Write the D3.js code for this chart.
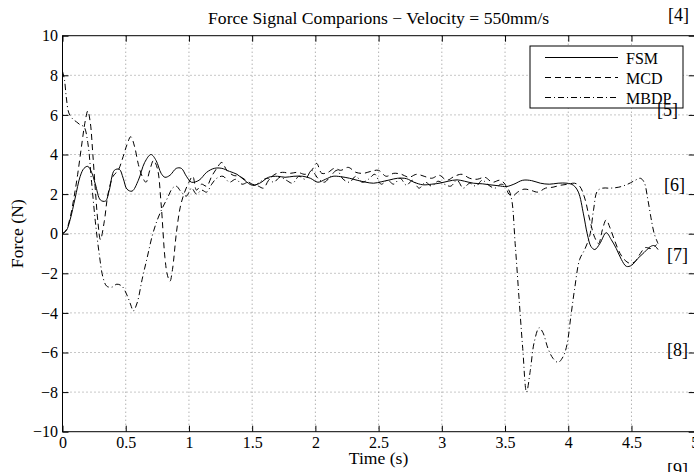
<!DOCTYPE html>
<html>
<head>
<meta charset="utf-8">
<script src="https://cdn.jsdelivr.net/npm/d3@7"></script>
<style>
  body { margin: 0; background: #fff; }
  text { font-family: "Liberation Serif", "Times New Roman", serif; fill: #000; }
</style>
</head>
<body>
<svg id="chart" width="694" height="472"></svg>
<script>
// Data
const fsmTime = [0, 0.03, 0.06, 0.1, 0.14, 0.17, 0.2, 0.23, 0.26, 0.3, 0.34, 0.37, 0.41, 0.45, 0.48, 0.51, 0.55, 0.6, 0.65, 0.7, 0.74, 0.78, 0.81, 0.85, 0.9, 0.94, 0.98, 1.02, 1.08, 1.14, 1.2, 1.26, 1.32, 1.38, 1.44, 1.5, 1.56, 1.63, 1.7, 1.76, 1.83, 1.9, 1.96, 2.02, 2.08, 2.14, 2.2, 2.27, 2.33, 2.4, 2.46, 2.52, 2.59, 2.65, 2.72, 2.78, 2.85, 2.92, 2.99, 3.05, 3.12, 3.18, 3.25, 3.32, 3.38, 3.45, 3.51, 3.57, 3.64, 3.71, 3.78, 3.85, 3.92, 3.99, 4.04, 4.08, 4.12, 4.15, 4.18, 4.21, 4.25, 4.3, 4.34, 4.38, 4.42, 4.46, 4.5, 4.55, 4.6, 4.65, 4.68, 4.71];
const fsmForce = [0, 0.15, 0.7, 1.8, 2.9, 3.3, 3.4, 3.1, 2.5, 1.7, 1.65, 2.2, 3.2, 3.25, 2.8, 2.25, 2.15, 2.7, 3.6, 4.0, 3.7, 3.05, 2.85, 2.95, 3.3, 3.3, 2.9, 2.6, 2.7, 3.1, 3.3, 3.3, 3.15, 3.0, 2.7, 2.45, 2.55, 2.85, 2.9, 2.85, 2.9, 2.9, 2.8, 2.6, 2.75, 2.9, 2.88, 2.8, 2.7, 2.6, 2.55, 2.62, 2.72, 2.8, 2.78, 2.6, 2.47, 2.5, 2.56, 2.65, 2.72, 2.65, 2.55, 2.52, 2.47, 2.42, 2.38, 2.5, 2.7, 2.68, 2.55, 2.5, 2.55, 2.55, 2.45, 2.1, 1.0, 0.0, -0.65, -0.8, -0.5, 0.05, -0.3, -0.75, -1.3, -1.65, -1.6, -1.25, -0.95, -0.65, -0.6, -0.8];

const mcdTime = [0, 0.03, 0.06, 0.09, 0.12, 0.15, 0.18, 0.2, 0.22, 0.24, 0.26, 0.28, 0.3, 0.33, 0.36, 0.4, 0.44, 0.48, 0.51, 0.54, 0.57, 0.6, 0.63, 0.66, 0.69, 0.72, 0.75, 0.78, 0.81, 0.83, 0.85, 0.87, 0.9, 0.93, 0.96, 1.0, 1.03, 1.06, 1.1, 1.14, 1.18, 1.22, 1.26, 1.3, 1.35, 1.4, 1.45, 1.5, 1.55, 1.59, 1.63, 1.68, 1.74, 1.8, 1.86, 1.92, 1.97, 2.01, 2.05, 2.1, 2.15, 2.2, 2.26, 2.32, 2.38, 2.44, 2.5, 2.56, 2.62, 2.68, 2.74, 2.8, 2.86, 2.92, 2.98, 3.04, 3.1, 3.16, 3.22, 3.28, 3.34, 3.4, 3.46, 3.5, 3.53, 3.56, 3.6, 3.65, 3.7, 3.76, 3.82, 3.88, 3.94, 4.0, 4.05, 4.09, 4.13, 4.17, 4.21, 4.24, 4.27, 4.3, 4.33, 4.37, 4.41, 4.45, 4.49, 4.53, 4.57, 4.61, 4.65, 4.7];
const mcdForce = [0, 0.2, 0.8, 1.8, 3.0, 4.4, 5.7, 6.2, 5.6, 4.0, 2.2, 0.6, -0.3, 0.6, 2.0, 2.9, 3.2, 3.9, 4.5, 4.9, 4.4, 3.5, 2.9, 2.6, 3.2, 3.7, 3.3, 1.5, -1.2, -2.1, -2.4, -1.8, 0.0, 1.3, 2.0, 2.6, 2.9, 2.2, 2.5, 2.4, 2.9, 3.3, 3.6, 3.2, 2.95, 2.9, 2.7, 2.5, 2.4, 2.3, 2.7, 3.0, 3.1, 3.05, 3.1, 3.0, 3.2, 3.55, 3.05, 3.1, 3.3, 3.2, 3.35, 3.1, 3.05, 3.15, 3.2, 2.9, 3.05, 3.0, 2.85, 3.0, 2.9, 2.8, 2.95, 2.7, 2.9, 3.0, 2.8, 2.75, 2.85, 2.6, 2.7, 2.5, 2.0, 1.9, 2.1, 2.25, 2.2, 2.1, 2.3, 2.35, 2.45, 2.5, 2.55, 2.4, 1.8, 0.7, -0.2, -0.5, 0.2, 0.7, 0.3, -0.4, -1.0, -1.35, -1.5, -1.4, -1.0, -0.7, -0.75, -0.55];

const mbdpTime = [0, 0.015, 0.03, 0.05, 0.08, 0.11, 0.14, 0.17, 0.2, 0.23, 0.26, 0.29, 0.32, 0.35, 0.39, 0.43, 0.47, 0.51, 0.54, 0.56, 0.59, 0.63, 0.67, 0.71, 0.75, 0.79, 0.83, 0.87, 0.9, 0.94, 0.98, 1.02, 1.06, 1.1, 1.14, 1.18, 1.22, 1.27, 1.32, 1.37, 1.42, 1.47, 1.52, 1.57, 1.62, 1.67, 1.72, 1.77, 1.82, 1.87, 1.92, 1.97, 2.02, 2.07, 2.12, 2.17, 2.22, 2.27, 2.32, 2.37, 2.42, 2.47, 2.52, 2.57, 2.62, 2.67, 2.72, 2.77, 2.82, 2.87, 2.92, 2.97, 3.02, 3.07, 3.12, 3.17, 3.22, 3.27, 3.32, 3.37, 3.42, 3.47, 3.52, 3.55, 3.58, 3.61, 3.64, 3.67, 3.7, 3.73, 3.77, 3.8, 3.84, 3.88, 3.92, 3.96, 3.99, 4.02, 4.05, 4.09, 4.13, 4.17, 4.2, 4.23, 4.27, 4.33, 4.4, 4.47, 4.53, 4.57, 4.6, 4.63, 4.66, 4.68, 4.71];
const mbdpForce = [8.2, 7.8, 6.9, 6.1, 5.8, 5.65, 5.5, 5.4, 4.6, 2.6, 0.6, -1.0, -2.2, -2.65, -2.7, -2.55, -2.65, -3.1, -3.6, -3.9, -3.5, -2.3, -1.2, -0.1, 0.7, 1.3, 1.8, 2.3, 2.4, 2.1, 1.9, 2.3, 2.0, 2.2, 2.1, 2.5, 2.8, 2.9, 2.6, 2.75, 2.5, 2.6, 2.45, 2.65, 2.8, 2.6, 2.85, 2.7, 2.55, 2.9, 2.75, 3.2, 2.8, 2.6, 2.9, 3.2, 2.75, 2.6, 2.9, 2.6, 2.75, 3.0, 2.5, 2.7, 2.5, 2.8, 2.45, 2.7, 2.3, 2.6, 2.4, 2.65, 2.5, 2.4, 2.7, 2.3, 2.55, 2.4, 2.7, 2.45, 2.3, 2.5, 2.3, 1.8, -0.5, -3.2, -5.8, -8.0, -6.9, -5.5, -4.75, -5.0, -5.8, -6.3, -6.5, -6.2, -5.6, -4.2, -2.8, -1.3, -0.8, -0.1, 1.2, 2.15, 2.3, 2.3, 2.35, 2.5, 2.7, 2.8, 2.6, 1.7, 0.6, 0.0, -0.5];

const seriesNames = ["FSM", "MCD", "MBDP"];
const xTicks = [0, 0.5, 1, 1.5, 2, 2.5, 3, 3.5, 4, 4.5, 5];
const yTicks = [-10, -8, -6, -4, -2, 0, 2, 4, 6, 8, 10];
const sideNotes = ["[4]", "[5]", "[6]", "[7]", "[8]", "[9]"];

const svg = d3.select("#chart");
const margin = {top: 35.7, left: 62.5};
const width = 632.2, height = 396;

const x = d3.scaleLinear().domain([0, 5]).range([margin.left, margin.left + width]);
const y = d3.scaleLinear().domain([-10, 10]).range([margin.top + height, margin.top]);

const fmt = d => String(d).replace("-", "\u2212");

// Grid
svg.append("g").selectAll("line")
  .data(xTicks.slice(1, -1))
  .enter().append("line")
  .attr("x1", d => x(d)).attr("x2", d => x(d))
  .attr("y1", y(10)).attr("y2", y(-10))
  .attr("stroke", "#444").attr("stroke-width", 0.6)
  .attr("stroke-dasharray", "1,3");

svg.append("g").selectAll("line")
  .data(yTicks.slice(1, -1))
  .enter().append("line")
  .attr("y1", d => y(d)).attr("y2", d => y(d))
  .attr("x1", x(0)).attr("x2", x(5))
  .attr("stroke", "#444").attr("stroke-width", 0.6)
  .attr("stroke-dasharray", "1,3");

// Series
const zip = (ts, fs) => ts.map((t, i) => ({t: t, f: fs[i]}));
const series = [
  {name: seriesNames[0], pts: zip(fsmTime, fsmForce), dash: null},
  {name: seriesNames[1], pts: zip(mcdTime, mcdForce), dash: "6,4"},
  {name: seriesNames[2], pts: zip(mbdpTime, mbdpForce), dash: "6,3,1,3"}
];

const line = d3.line()
  .x(d => x(d.t))
  .y(d => y(d.f))
  .curve(d3.curveCatmullRom.alpha(0.5));

svg.append("g").selectAll("path")
  .data(series)
  .enter().append("path")
  .attr("d", d => line(d.pts))
  .attr("fill", "none")
  .attr("stroke", "#000")
  .attr("stroke-width", 1)
  .attr("stroke-dasharray", d => d.dash);

// Axes (inward ticks, box)
svg.append("g")
  .attr("transform", "translate(0," + y(-10) + ")")
  .call(d3.axisBottom(x).tickValues(xTicks).tickSize(-6).tickPadding(5).tickFormat(fmt))
  .call(g => g.select(".domain").remove());

svg.append("g")
  .attr("transform", "translate(0," + y(10) + ")")
  .call(d3.axisTop(x).tickValues(xTicks).tickSize(-6).tickFormat(""))
  .call(g => g.select(".domain").remove());

svg.append("g")
  .attr("transform", "translate(" + x(0) + ",0)")
  .call(d3.axisLeft(y).tickValues(yTicks).tickSize(-6).tickPadding(4.5).tickFormat(fmt))
  .call(g => g.select(".domain").remove());

svg.append("g")
  .attr("transform", "translate(" + x(5) + ",0)")
  .call(d3.axisRight(y).tickValues(yTicks).tickSize(-6).tickFormat(""))
  .call(g => g.select(".domain").remove());

svg.selectAll(".tick text")
  .attr("font-family", "Liberation Serif, serif")
  .attr("font-size", 16)
  .attr("fill", "#000");
svg.selectAll(".tick line").attr("stroke", "#000");

svg.append("rect")
  .attr("x", x(0)).attr("y", y(10))
  .attr("width", width).attr("height", height)
  .attr("fill", "none").attr("stroke", "#000").attr("stroke-width", 1);

// Titles
svg.append("text")
  .attr("x", x(2.5)).attr("y", 24)
  .attr("text-anchor", "middle").attr("font-size", 17.6)
  .text("Force Signal Comparions \u2212 Velocity = 550mm/s");

svg.append("text")
  .attr("x", x(2.5)).attr("y", 464)
  .attr("text-anchor", "middle").attr("font-size", 17.6)
  .text("Time (s)");

svg.append("text")
  .attr("transform", "translate(23," + y(0) + ") rotate(-90)")
  .attr("text-anchor", "middle").attr("font-size", 17.6)
  .text("Force (N)");

// Legend
const legend = svg.append("g").attr("transform", "translate(530,46)");
legend.append("rect")
  .attr("width", 153).attr("height", 62)
  .attr("fill", "#fff").attr("stroke", "#000").attr("stroke-width", 1);

const item = legend.selectAll(".item")
  .data(series)
  .enter().append("g")
  .attr("class", "item")
  .attr("transform", (d, i) => "translate(0," + (11.5 + i * 20) + ")");

item.append("line")
  .attr("x1", 15).attr("x2", 88)
  .attr("stroke", "#000").attr("stroke-width", 1)
  .attr("stroke-dasharray", d => d.dash);

item.append("text")
  .attr("x", 96).attr("y", 6)
  .attr("font-size", 16)
  .text(d => d.name);

// Reference marks overlapping on the right
const noteX = [668, 657, 664, 667, 667, 667];
const noteY = [21, 116, 191, 261, 356, 476];
svg.append("g").selectAll("text")
  .data(sideNotes)
  .enter().append("text")
  .attr("x", (d, i) => noteX[i])
  .attr("y", (d, i) => noteY[i])
  .attr("font-size", 18)
  .text(d => d);
</script>
</body>
</html>
